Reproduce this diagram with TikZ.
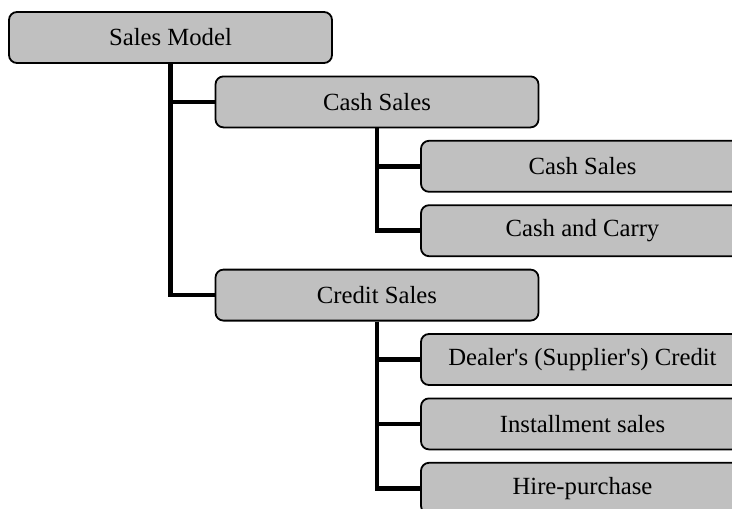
\documentclass[tikz,border=0pt]{standalone}
\usepackage{fontspec}
\setmainfont{Liberation Serif}
\definecolor{boxgray}{RGB}{192,192,192}

\begin{document}
\begin{tikzpicture}[x=1pt, y=-1pt,
    item/.style={draw, line width=1.8pt, fill=boxgray, rounded corners=8pt,
      minimum width=323pt, minimum height=51pt, inner sep=0pt,
      font=\fontsize{24.7pt}{29pt}\selectfont},
    link/.style={line width=4.5pt}]
  \useasboundingbox (0,0) rectangle (732,509);
  % top level
  \node[item] (model) at (170.5,37.5) {Sales Model};
  % second level
  \node[item] (cash) at (377,101.9) {Cash Sales};
  \node[item] (credit) at (377,295.1) {Credit Sales};
  % third level
  \node[item] (cashsales) at (582.5,166.3) {Cash Sales};
  \node[item] (carry) at (582.5,230.7) {Cash and Carry};
  \node[item] (dealer) at (582.5,359.5)
    {Dealer\textquotesingle s (Supplier\textquotesingle s) Credit};
  \node[item] (install) at (582.5,423.9) {Installment sales};
  \node[item] (hire) at (582.5,488.3) {Hire-purchase};
  % connectors
  \draw[link] (model.south) |- (cash.west);
  \draw[link] (model.south) |- (credit.west);
  \draw[link] (cash.south) |- (cashsales.west);
  \draw[link] (cash.south) |- (carry.west);
  \draw[link] (credit.south) |- (dealer.west);
  \draw[link] (credit.south) |- (install.west);
  \draw[link] (credit.south) |- (hire.west);
\end{tikzpicture}
\end{document}
